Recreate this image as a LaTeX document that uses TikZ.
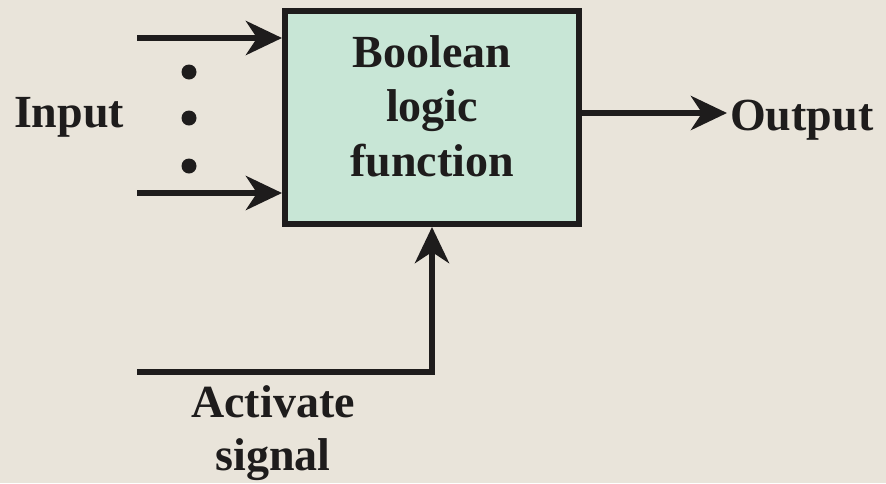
\documentclass[tikz,border=0pt]{standalone}
\usepackage{fontspec}
\setmainfont{Liberation Serif}
\usetikzlibrary{arrows.meta}
\definecolor{bgcol}{RGB}{233,228,218}
\definecolor{boxcol}{RGB}{200,230,214}
\definecolor{inkcol}{RGB}{30,28,28}
\tikzset{
  lbl/.style={font=\fontsize{46}{54}\selectfont\bfseries, text=inkcol, inner sep=0pt, align=center},
  headtip/.tip={Stealth[length=36pt 0,width=34pt 0,inset=11pt 0]},
  conn/.style={draw=inkcol, line width=6pt, -headtip},
  dotmark/.style={circle, fill=inkcol, minimum size=15pt, inner sep=0pt},
  logicbox/.style={draw=inkcol, fill=boxcol, line width=6pt, minimum width=294pt, minimum height=213pt, inner sep=0pt}
}
\begin{document}
\begin{tikzpicture}[x=1pt,y=-1pt]
\fill[bgcol] (0,0) rectangle (886,483);
\useasboundingbox (0,0) rectangle (886,483);
\node[logicbox] (box) at (432,117.5) {};
\node[lbl, anchor=base] (t1) at (432,67) {Boolean};
\node[lbl, anchor=base] (t2) at (432,121) {logic};
\node[lbl, anchor=base] (t3) at (432,176) {function};
\node[lbl, anchor=base] (inlbl) at (69,127) {Input};
\node[lbl, anchor=base west] (outlbl) at (730,130) {Output};
\node[lbl, anchor=base] (act1) at (273,417) {Activate};
\node[lbl, anchor=base] (act2) at (273,470) {signal};
\node[dotmark] (d1) at (189,72) {};
\node[dotmark] (d2) at (189,118) {};
\node[dotmark] (d3) at (189,166) {};
\coordinate (in1) at (137,38);
\coordinate (in2) at (137,193);
\coordinate (outend) at (727,113);
\coordinate (act) at (137,372);
\draw[conn] (in1) -- (box.west |- in1);
\draw[conn] (in2) -- (box.west |- in2);
\draw[conn] (box.east |- outend) -- (outend);
\draw[conn] (act) -| (box.south);
\end{tikzpicture}
\end{document}
